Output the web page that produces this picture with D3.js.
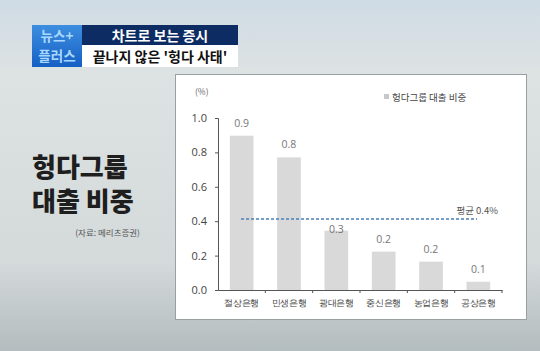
<!DOCTYPE html>
<html>
<head>
<meta charset="utf-8">
<script src="https://cdn.jsdelivr.net/npm/d3@7"></script>
<style>
  html, body { margin: 0; padding: 0; }
  body { width: 540px; height: 351px; overflow: hidden; font-family: "Noto Sans CJK KR", "Noto Sans", sans-serif; }
</style>
</head>
<body>
<svg width="540" height="351"></svg>
<script>
var banks = ["절상은행", "민생은행", "광대은행", "중신은행", "농업은행", "공상은행"];
var shares = [0.897, 0.771, 0.345, 0.223, 0.165, 0.048];
var shareLabels = ["0.9", "0.8", "0.3", "0.2", "0.2", "0.1"];
var yTicks = [0, 0.2, 0.4, 0.6, 0.8, 1.0];
var average = 0.413;

var svg = d3.select("svg");

// background
var defs = svg.append("defs");
var bg = defs.append("linearGradient")
    .attr("id", "bg")
    .attr("x1", 0).attr("y1", 0).attr("x2", 0).attr("y2", 1);
bg.append("stop").attr("offset", "0").attr("stop-color", "#cfdbe5");
bg.append("stop").attr("offset", "0.2").attr("stop-color", "#dde2e3");
bg.append("stop").attr("offset", "0.75").attr("stop-color", "#d4d9da");
bg.append("stop").attr("offset", "1").attr("stop-color", "#b3bcbe");

var logo = defs.append("linearGradient")
    .attr("id", "logo")
    .attr("x1", 0).attr("y1", 0).attr("x2", 0).attr("y2", 1);
logo.append("stop").attr("offset", "0").attr("stop-color", "#3d8ee0");
logo.append("stop").attr("offset", "1").attr("stop-color", "#1560c4");

svg.append("rect")
    .attr("width", 540).attr("height", 351)
    .attr("fill", "url(#bg)");

// news banner
svg.append("rect")
    .attr("x", 32).attr("y", 25).attr("width", 50).attr("height", 42)
    .attr("fill", "url(#logo)");
svg.append("text")
    .attr("x", 57).attr("y", 41)
    .attr("text-anchor", "middle")
    .attr("font-size", 13.5).attr("font-weight", "bold")
    .attr("fill", "#a8d8ff")
    .text("뉴스+");
svg.append("text")
    .attr("x", 57).attr("y", 61)
    .attr("text-anchor", "middle")
    .attr("font-size", 13.5).attr("font-weight", "bold")
    .attr("fill", "#a8d8ff")
    .text("플러스");

svg.append("rect")
    .attr("x", 82).attr("y", 25).attr("width", 156).attr("height", 20)
    .attr("fill", "#0d2c63");
svg.append("text")
    .attr("x", 160).attr("y", 40.5)
    .attr("text-anchor", "middle")
    .attr("font-size", 14).attr("font-weight", "bold")
    .attr("fill", "#fff")
    .text("차트로 보는 증시");

svg.append("rect")
    .attr("x", 82).attr("y", 45).attr("width", 156).attr("height", 22)
    .attr("fill", "#fff");
svg.append("text")
    .attr("x", 160).attr("y", 61.5)
    .attr("text-anchor", "middle")
    .attr("font-size", 14).attr("font-weight", "bold")
    .attr("fill", "#111")
    .text("끝나지 않은 '헝다 사태'");

// big title
svg.append("text")
    .attr("x", 32).attr("y", 177)
    .attr("font-size", 26).attr("font-weight", 900)
    .attr("fill", "#1e1e1e")
    .text("헝다그룹");
svg.append("text")
    .attr("x", 32).attr("y", 211)
    .attr("font-size", 26).attr("font-weight", 900)
    .attr("fill", "#1e1e1e")
    .text("대출 비중");
svg.append("text")
    .attr("x", 140).attr("y", 236)
    .attr("text-anchor", "end")
    .attr("font-size", 8.5)
    .attr("fill", "#555")
    .text("(자료: 메리츠증권)");

// chart panel
svg.append("rect")
    .attr("x", 175.5).attr("y", 74.5).attr("width", 351).attr("height", 245)
    .attr("fill", "#fff")
    .attr("stroke", "#9a9fa2");

var x = d3.scaleBand()
    .domain(banks)
    .range([218, 502])
    .paddingInner(0.5)
    .paddingOuter(0.25);

var y = d3.scaleLinear()
    .domain([0, 1])
    .range([290, 118]);

// bars
svg.selectAll(".bar")
    .data(banks)
  .enter().append("rect")
    .attr("class", "bar")
    .attr("x", function(d) { return x(d); })
    .attr("width", x.bandwidth())
    .attr("y", function(d, i) { return y(shares[i]); })
    .attr("height", function(d, i) { return y(0) - y(shares[i]); })
    .attr("fill", "#d9d9d9");

// value labels (pushed down when they would sit on the average line)
svg.selectAll(".val")
    .data(banks)
  .enter().append("text")
    .attr("class", "val")
    .attr("x", function(d) { return x(d) + x.bandwidth() / 2; })
    .attr("y", function(d, i) {
      var ly = y(shares[i]) - 9;
      if (Math.abs(ly - 4 - y(average)) < 8) ly = y(shares[i]) + 2;
      return ly;
    })
    .attr("text-anchor", "middle")
    .attr("font-family", "'Open Sans', sans-serif")
    .attr("font-size", 10.5)
    .attr("fill", "#777")
    .text(function(d, i) { return shareLabels[i]; });

// y axis
var yAxis = svg.append("g")
    .attr("transform", "translate(218,0)")
    .call(d3.axisLeft(y).tickValues(yTicks).tickFormat(d3.format(".1f")).tickSize(3).tickPadding(8));
yAxis.select(".domain").attr("stroke", "#555");
yAxis.selectAll(".tick line").attr("stroke", "#555");
yAxis.selectAll(".tick text")
    .attr("font-family", "'Open Sans', sans-serif")
    .attr("font-size", 11)
    .attr("fill", "#444");

// x axis, ticks sit between categories
var xAxis = svg.append("g")
    .attr("transform", "translate(0,290)")
    .call(d3.axisBottom(x).tickSize(0).tickPadding(10));
xAxis.select(".domain").attr("stroke", "#555");
xAxis.selectAll(".tick text")
    .attr("font-size", 9)
    .attr("letter-spacing", -0.3)
    .attr("fill", "#444");
xAxis.selectAll(".sep")
    .data(banks)
  .enter().append("line")
    .attr("class", "sep")
    .attr("x1", function(d) { return x(d) + x.bandwidth() + x.step() * 0.25; })
    .attr("x2", function(d) { return x(d) + x.bandwidth() + x.step() * 0.25; })
    .attr("y1", 0).attr("y2", 3)
    .attr("stroke", "#555");

// average line
svg.append("line")
    .attr("x1", 241).attr("x2", 477)
    .attr("y1", y(average)).attr("y2", y(average))
    .attr("stroke", "#4a7fb6")
    .attr("stroke-width", 1.5)
    .attr("stroke-dasharray", "3,2");
svg.append("text")
    .attr("x", 498).attr("y", y(average) - 5)
    .attr("text-anchor", "end")
    .attr("font-size", 9.5)
    .attr("fill", "#555")
    .text("평균 0.4%");

// unit and legend
svg.append("text")
    .attr("x", 195).attr("y", 95)
    .attr("font-size", 8.5)
    .attr("fill", "#666")
    .text("(%)");
svg.append("rect")
    .attr("x", 384).attr("y", 94).attr("width", 5).attr("height", 5)
    .attr("fill", "#c8c8c8");
svg.append("text")
    .attr("x", 392).attr("y", 100.5)
    .attr("font-size", 9.5)
    .attr("fill", "#444")
    .text("헝다그룹 대출 비중");
</script>
</body>
</html>
